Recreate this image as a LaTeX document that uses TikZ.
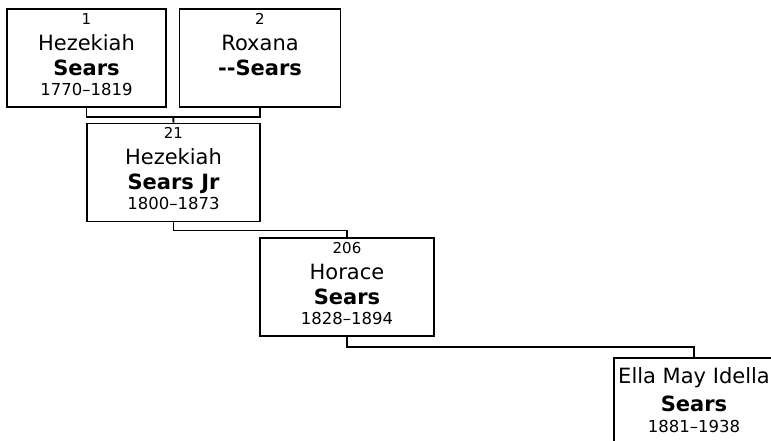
\documentclass[tikz,border=0pt]{standalone}
\usepackage{fontspec}
\setmainfont{DejaVu Sans}
\usepackage{tikz}
\usetikzlibrary{calc}
\tikzset{
  person/.style={draw,line width=1.9pt,minimum height=98pt,inner sep=0pt},
  who/.style={anchor=north,align=center,inner sep=0pt,font=\fontsize{21}{25}\selectfont},
  link/.style={line width=1.9pt}
}
\newcommand{\num}[1]{{\fontsize{15}{25}\selectfont #1}}
\newcommand{\yrs}[1]{{\fontsize{16.5}{20}\selectfont #1}}

\begin{document}
\begin{tikzpicture}[x=1pt,y=-1pt]
\clip (0,0) rectangle (771,441);
% boxes
\node[person,minimum width=159pt] (p1) at (86.5,58) {};
\node[person,minimum width=161pt] (p2) at (260,58) {};
\node[person,minimum width=173pt] (p21) at (173.5,172.5) {};
\node[person,minimum width=174pt] (p206) at (347,287) {};
\node[person,minimum width=160pt] (pElla) at (694,407) {};
% texts
\node[who] (t1) at ($(p1.north)+(0,5)$) {\num{1}\\[1pt] Hezekiah\\ \textbf{Sears}\\[-5pt] \yrs{1770–1819}};
\node[who] (t2) at ($(p2.north)+(0,5)$) {\num{2}\\[1pt] Roxana\\ \textbf{-\kern0pt-Sears}};
\node[who] (t21) at ($(p21.north)+(0,5)$) {\num{21}\\[1pt] Hezekiah\\ \textbf{Sears Jr}\\[-5pt] \yrs{1800–1873}};
\node[who] (t206) at ($(p206.north)+(0,5)$) {\num{206}\\[1pt] Horace\\ \textbf{Sears}\\[-5pt] \yrs{1828–1894}};
\node[who] (tElla) at ($(pElla.north)+(0,10)$) {Ella May Idella\\[3pt] \textbf{Sears}\\[-4pt] \yrs{1881–1938}};
% lines
\coordinate (m12) at ($(p1.south)!0.5!(p2.south)+(0,9)$);
\draw[link] (p1.south) |- (m12) -| (p2.south);
\draw[link] (m12) -- (p21.north);
\draw[link] (p21.south) -- ++(0,8) -| (p206.north);
\draw[link] (p206.south) -- ++(0,10) -| (pElla.north);
\end{tikzpicture}
\end{document}
